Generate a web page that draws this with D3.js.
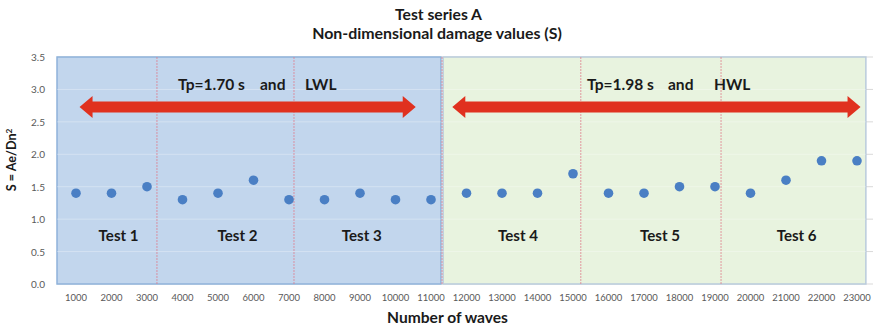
<!DOCTYPE html>
<html><head><meta charset="utf-8">
<script src="https://cdn.jsdelivr.net/npm/d3@7"></script>
<style>body{margin:0;background:#fff}svg{display:block}text{font-family:Lato,"Open Sans",sans-serif}</style>
</head><body><svg id="c" width="877" height="330"></svg>
<script>
const waves = [1000,2000,3000,4000,5000,6000,7000,8000,9000,10000,11000,12000,13000,14000,15000,16000,17000,18000,19000,20000,21000,22000,23000];
const damageS = [1.4,1.4,1.5,1.3,1.4,1.6,1.3,1.3,1.4,1.3,1.3,1.4,1.4,1.4,1.7,1.4,1.4,1.5,1.5,1.4,1.6,1.9,1.9];
const yTicks = [0,0.5,1.0,1.5,2.0,2.5,3.0,3.5];
const testNames = ["Test 1","Test 2","Test 3","Test 4","Test 5","Test 6"];
const testCenters = [2200,5550,9050,13450,17450,21300];
const testDividers = [3280,7140,11310,15220,19170];
const regionNames = ["LWL","HWL"];
const regionFrom = [465, 11340];
const regionTo = [11280, 23250];
const arrowFrom = [1100, 11600];
const arrowTo = [10570, 23100];
const labelParts = [["Tp=1.70 s","and","LWL"],["Tp=1.98 s","and","HWL"]];
const labelStarts = [[3873,6183,7451],[15394,17676,18972]];

const svg = d3.select("#c");
const x = d3.scaleLinear().domain([1000,23000]).range([76,857]);
const y = d3.scaleLinear().domain([0,3.5]).range([284,57]);
const plotL = x(465), plotR = 873;

function fit(sel, target){
  const n = sel.node(); sel.attr("font-size",10);
  const w = n.getComputedTextLength();
  const fs = 10*target/w; sel.attr("font-size",fs); return fs;
}
function measure(str, bold){
  const t = svg.append("text").attr("font-weight",bold?"bold":null).attr("font-size",10).text(str);
  const w = t.node().getComputedTextLength(); t.remove(); return w;
}

// gridlines
svg.append("g").selectAll("line").data(yTicks).join("line")
  .attr("x1",plotL).attr("x2",plotR).attr("y1",d=>y(d)).attr("y2",d=>y(d))
  .attr("stroke","#d9d9d9").attr("stroke-width",1);

// region rects
const fills = ["#c2d6ed","#e8f3df"], strokes = ["#8fb2da","#b9cbdc"];
svg.append("g").selectAll("rect").data(regionNames).join("rect")
  .attr("x",(d,i)=>x(regionFrom[i])).attr("width",(d,i)=>x(regionTo[i])-x(regionFrom[i]))
  .attr("y",y(3.5)).attr("height",y(0)-y(3.5))
  .attr("fill",(d,i)=>fills[i]).attr("stroke",(d,i)=>strokes[i]).attr("stroke-width",1.5);

// faint gridlines over rects
svg.append("g").selectAll("line").data(yTicks.slice(1,-1)).join("line")
  .attr("x1",plotL).attr("x2",x(23250)).attr("y1",d=>y(d)).attr("y2",d=>y(d))
  .attr("stroke","#ffffff").attr("stroke-opacity",0.3).attr("stroke-width",1);

// dividers
svg.append("g").selectAll("line").data(testDividers).join("line")
  .attr("x1",d=>x(d)).attr("x2",d=>x(d)).attr("y1",y(3.5)).attr("y2",y(0))
  .attr("stroke","#e07a8a").attr("stroke-width",1).attr("stroke-dasharray","2,1").attr("opacity",0.75);

// arrows
function arrowPath(x1,x2,yc){
  const h=5.5, H=11, L=13;
  return `M${x1},${yc} L${x1+L},${yc-H} L${x1+L},${yc-h} L${x2-L},${yc-h} L${x2-L},${yc-H} L${x2},${yc} L${x2-L},${yc+H} L${x2-L},${yc+h} L${x1+L},${yc+h} L${x1+L},${yc+H} Z`;
}
svg.append("g").selectAll("path").data(regionNames).join("path")
  .attr("d",(d,i)=>arrowPath(x(arrowFrom[i]),x(arrowTo[i]),y(2.73)))
  .attr("fill","#e0311f");

// arrow labels
const lblFs = 10*67/measure("Tp=1.70 s",true);
labelParts.forEach((parts,i)=>{
  svg.append("g").selectAll("text").data(parts).join("text")
    .attr("x",(d,j)=>x(labelStarts[i][j])).attr("y",90)
    .attr("font-size",lblFs).attr("font-weight","bold").attr("fill","#1a1a1a").text(d=>d);
});

// test labels
const testFs = 10*40/measure("Test 1",true);
svg.append("g").selectAll("text").data(testNames).join("text")
  .attr("x",(d,i)=>x(testCenters[i])).attr("y",241).attr("text-anchor","middle")
  .attr("font-size",testFs).attr("font-weight","bold").attr("fill","#1a1a1a").text(d=>d);

// points
svg.append("g").selectAll("circle").data(waves).join("circle")
  .attr("cx",d=>x(d)).attr("cy",(d,i)=>y(damageS[i])).attr("r",4.8)
  .attr("fill","#4a7fc4");

// axes tick labels
const tickFs = 10*22/measure("1000",false);
const yTickFs = 10*14/measure("1.5",false);
svg.append("g").selectAll("text").data(yTicks).join("text")
  .attr("x",45).attr("y",d=>y(d)+4).attr("text-anchor","end")
  .attr("font-size",yTickFs).attr("fill","#595959").text(d=>d.toFixed(1));
svg.append("g").selectAll("text").data(waves).join("text")
  .attr("x",d=>x(d)).attr("y",301).attr("text-anchor","middle")
  .attr("font-size",tickFs).attr("fill","#595959").text(d=>d);

// titles
fit(svg.append("text").attr("x",438.5).attr("y",20).attr("text-anchor","middle")
  .attr("font-weight","bold").attr("fill","#1a1a1a").text("Test series A"), 87);
fit(svg.append("text").attr("x",437).attr("y",39).attr("text-anchor","middle")
  .attr("font-weight","bold").attr("fill","#1a1a1a").text("Non-dimensional damage values (S)"), 250);
fit(svg.append("text").attr("x",447.5).attr("y",323).attr("text-anchor","middle")
  .attr("font-weight","bold").attr("fill","#1a1a1a").text("Number of waves"), 121);
const ylFs = 10*58/measure("S = Ae/Dn",true);
const yl = svg.append("text").attr("transform","translate(16,160) rotate(-90)").attr("text-anchor","middle")
  .attr("font-size",ylFs).attr("font-weight","bold").attr("fill","#1a1a1a");
yl.append("tspan").text("S = Ae/Dn");
yl.append("tspan").attr("font-size",ylFs*0.65).attr("dy",-4).text("2");
</script></body></html>
